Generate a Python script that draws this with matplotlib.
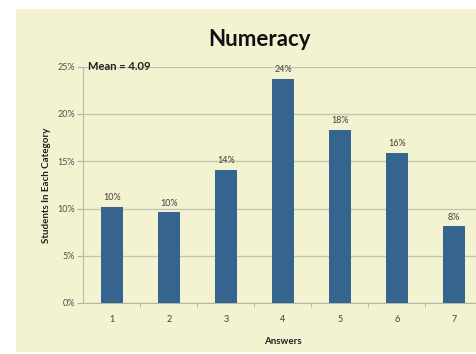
import matplotlib
matplotlib.use("Agg")
import matplotlib.pyplot as plt
from matplotlib.patches import Rectangle

categories = ["1", "2", "3", "4", "5", "6", "7"]
values = [10.2, 9.6, 14.1, 23.7, 18.3, 15.9, 8.1]
labels = ["10%", "10%", "14%", "24%", "18%", "16%", "8%"]
yticks = [0, 5, 10, 15, 20, 25]
ytick_labels = ["0%", "5%", "10%", "15%", "20%", "25%"]

plt.rcParams['font.family'] = ['Lato', 'DejaVu Sans']

W, H = 477, 354
fig = plt.figure(figsize=(W / 100, H / 100), dpi=100)
fig.patch.set_facecolor("white")
bg = "#f3f3d2"
rect = Rectangle((16 / W, 2 / H), 1 - 16 / W, (352 - 9) / H,
                 transform=fig.transFigure, facecolor=bg,
                 edgecolor="none", zorder=-10)
fig.add_artist(rect)

ax = fig.add_axes([83.5 / W, (H - 303) / H, 399 / W, 236.25 / H])
ax.set_zorder(1)
ax.set_facecolor("none")
x = list(range(len(categories)))
ax.bar(x, values, width=0.39, color="#35648f", zorder=3)
for xi, v, lab in zip(x, values, labels):
    ax.text(xi, v + 0.5, lab, ha="center", va="bottom", fontsize=6.5, color="#404040")

ax.set_xlim(-0.5, len(categories) - 0.5)
ax.set_ylim(0, 25)
ax.set_yticks(yticks)
ax.set_yticklabels(ytick_labels, fontsize=6.5, color="#505050")
ax.set_xticks(x)
ax.set_xticklabels(categories, fontsize=6.5, color="#404040")
ax.tick_params(axis="x", length=0, pad=9)
ax.set_xticks([i + 0.5 for i in range(len(categories))], minor=True)
ax.tick_params(axis="x", which="minor", length=3, color="#b0b0a0", direction="out")
ax.tick_params(axis="y", length=4, color="#b0b0a0", pad=2)
ax.yaxis.grid(True, color="#c4c4b4", linewidth=1.0, zorder=0)
ax.set_axisbelow(True)
for s in ["top", "right"]:
    ax.spines[s].set_visible(False)
ax.spines["left"].set_color("#b8b8a8")
ax.spines["bottom"].set_color("#b8b8a8")

ax.set_xlabel("Answers", fontsize=7, fontweight="bold", color="#202020", labelpad=9)
ax.set_ylabel("Students In Each Category", fontsize=7, fontweight="bold", color="#202020", labelpad=5)
ax.text(-0.42, 25, "Mean = 4.09", fontsize=8, fontweight="bold", color="#202020",
        va="center", ha="left", zorder=5)
fig.text(260 / W, (H - 40) / H, "Numeracy", ha="center", va="center",
         fontsize=16, fontweight="bold", color="#101010")

fig.savefig("out.png", dpi=100, facecolor=fig.get_facecolor())
